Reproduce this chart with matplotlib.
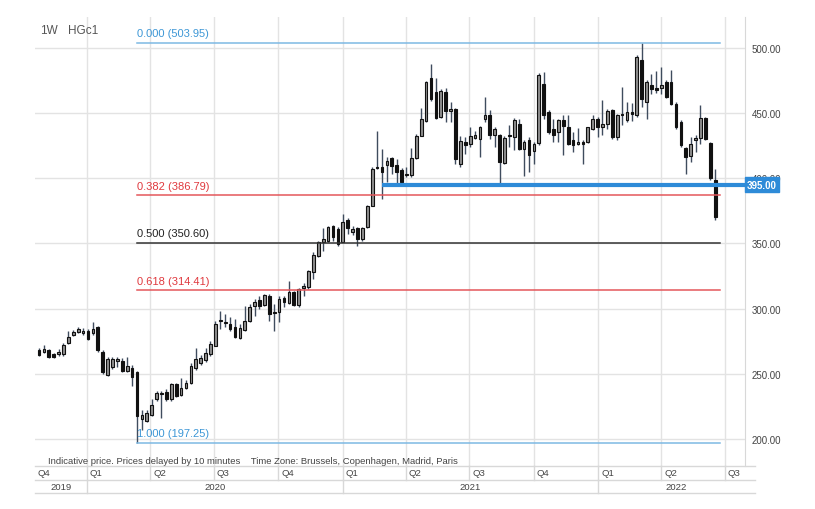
import matplotlib
matplotlib.use("Agg")
import matplotlib.pyplot as plt
import matplotlib.dates as mdates
import matplotlib.transforms as mtransforms
from matplotlib.lines import Line2D
import pandas as pd
import numpy as np

plt.rcParams['font.family'] = ['Liberation Sans', 'DejaVu Sans']

# ---------------- data ----------------
dates = pd.date_range('2019-10-25', periods=139, freq='W-FRI')

opens = [268, 267, 268.5, 265, 265, 265.5, 274, 280, 282, 281, 283, 281, 286, 267, 249, 255, 260, 260, 252, 254.5,
         251, 215, 214, 218.7, 230.3, 235.1, 235.9, 230.3, 241.8, 234.1, 239.2, 242.6, 254.6, 258.5, 260.2, 264.9,
         271.6, 290.5, 289, 288.2, 285.7, 277.5, 283.9, 290.8, 302.2, 306.9, 303, 309.4, 297, 297.1, 307.9, 304.3,
         313, 302.8, 315.6, 316.3, 327.8, 340.6, 351.4, 352.1, 363.1, 361, 351.3, 368.2, 358.5, 361.5, 353.4, 362.3,
         378.9, 408.8, 408.8, 410.1, 415.3, 410.1, 406.5, 402.5, 402.5, 415.3, 432.6, 444.1, 476.6, 466.3, 446.7,
         466.3, 451.8, 453.1, 410.9, 427.5, 426.3, 430.6, 430, 445.4, 448.7, 432.9, 432.9, 412, 433.4, 431.6, 441.8,
         422.7, 429, 420.6, 427, 472.5, 450.8, 437.5, 435.4, 444.4, 439.3, 429.6, 426.5, 427.8, 427.8, 438, 445.7,
         439.3, 441.8, 452, 431.6, 449.2, 444.4, 450.8, 448.2, 490.4, 458.4, 471.2, 469, 469.5, 473.8, 473.8, 457.2,
         443.1, 423.2, 417, 429, 430.9, 446.2, 427.3, 398.4]
highs = [270, 272, 269, 266, 269, 273.5, 283, 283.5, 286, 285, 284, 289.5, 287, 268, 263, 263, 263, 262, 263, 257,
         252, 222.6, 222, 230.3, 236.7, 236.7, 238.5, 243, 243.3, 246.9, 245.6, 258.5, 270, 264.4, 270, 275,
         290.8, 298.4, 296, 293.3, 292, 288, 302.2, 303.5, 307.4, 310, 311.2, 311.2, 303.5, 309.9, 309.4, 321.4,
         313.7, 316, 319.6, 329.9, 343.2, 352.1, 361.5, 363.6, 364.1, 362.3, 372.6, 369.2, 363.6, 362.3, 362.5, 379.7,
         408.3, 436.5, 422.4, 416, 416.5, 414.7, 407.6, 408.3, 422.9, 433.9, 453.6, 474.8, 487.6, 476.6, 468.4,
         468.9, 458.2, 453.6, 432.6, 431.3, 439, 436.4, 440.3, 462.3, 452, 439.3, 434.2, 432, 440.5, 446.2, 445.7,
         429, 431.6, 427.8, 480.5, 481.4, 452, 445.7, 445.7, 448.2, 448.7, 435.4, 438.5, 429, 439.3, 448.2, 447,
         459.7, 453.3, 453.3, 449.5, 470, 458.4, 458, 494.2, 503.95, 475, 480.2, 482, 485.3, 475, 482.7, 458.4,
         444.4, 423.9, 431.6, 432.9, 456.4, 447, 427.8, 407.3]
lows = [263.5, 266, 262, 262, 264, 264, 273, 279, 281, 280, 276, 280, 267, 250, 248, 254, 255, 251, 251, 240.5,
        197.25, 207, 213, 218, 229, 216.2, 229, 229.5, 232, 233, 238.5, 241.8, 253, 257, 259, 264,
        271, 284.4, 285.7, 283.1, 277.2, 276.7, 283.1, 289.5, 294.6, 299.7, 302.2, 290.8, 283, 289.5, 301, 303.5,
        302.2, 301.5, 309.4, 315, 322.7, 339.3, 344.5, 351.3, 352.1, 348.3, 350.8, 357.2, 356.4, 348.3, 351.5, 361.5,
        378.4, 407, 384.1, 396.8, 403.2, 394.8, 395, 401, 400.6, 414.7, 432, 442.8, 459.5, 445.4, 445.9,
        442.8, 442.8, 410.9, 408.3, 418.6, 423.7, 430, 416, 443.1, 430.3, 423.9, 394.5, 411.2, 424, 421.4, 421.4,
        401.7, 404.8, 411.2, 425.7, 445.7, 434.2, 427.8, 427.8, 418, 425.2, 420.1, 425.7, 411.2, 427, 436.7, 431.6,
        432.9, 438, 430.3, 429, 440.5, 443.1, 444, 446.9, 454.6, 445.7, 464.8, 465, 464.8, 461.5, 455.9, 437.5,
        423.9, 403.5, 412.4, 420.1, 426.5, 429, 398.4, 367.7]
closes = [264.5, 269, 263, 263, 267, 272, 278, 282, 284, 283, 277, 284.5, 268, 251, 261.5, 261, 261, 252, 256, 247.5,
          217.5, 218.7, 220, 226.4, 235.4, 234.6, 230.3, 241.8, 232.8, 239.2, 242.6, 255.9, 261, 262.3, 266.2, 272.6,
          288.2, 291, 290, 284.4, 278, 285.5, 290.8, 301, 305.3, 302.2, 310.5, 295.9, 296.5, 307.4, 305.3, 312.5,
          302.8, 315, 317.5, 329, 341.1, 351.3, 353.4, 362.3, 354.6, 349.5, 366.2, 361.5, 361, 353.4, 361.5, 378.9,
          407.1, 408, 404.5, 413.4, 409.1, 404.5, 396.8, 403.5, 415.3, 432.6, 445.4, 473.5, 460.7, 445.9, 467.1,
          451.8, 453.1, 414.7, 428.8, 425.5, 432.6, 433, 439, 448.4, 432.9, 438, 412.4, 431, 432.4, 444.4, 422.7,
          427.8, 417.5, 426.5, 479, 448.2, 435.4, 433.4, 444.4, 440, 426.5, 425.2, 428, 426, 439.3, 445.7, 439.3,
          441.8, 451.3, 431.6, 448.2, 448.5, 450.8, 449, 493, 461, 473.8, 468.7, 468, 471.5, 462.3, 457.2, 439.3,
          425.2, 416.3, 426.5, 430.9, 446.4, 430.3, 400.2, 370.3]

fib_high = 503.95
fib_low = 197.25
fib_ratios = [0.000, 0.382, 0.500, 0.618, 1.000]
support_level = 395.00
y_ticks = [200, 250, 300, 350, 400, 450, 500]
symbol = "HGc1"
interval = "1W"

# ---------------- figure ----------------
W, H = 815, 510
fig = plt.figure(figsize=(W / 100, H / 100), dpi=100)
L, R, T, B = 35, 745, 18, 467
ax = fig.add_axes([L / W, 1 - B / H, (R - L) / W, (B - T) / H])

xnum = mdates.date2num(dates)
ax.set_xlim(mdates.date2num(pd.Timestamp('2019-10-19 08:00')), mdates.date2num(pd.Timestamp('2022-07-29 14:00')))
ax.set_ylim(179.3, 523.6)

grid_c = '#e3e3e3'
# horizontal grid
for yt in y_ticks:
    ax.axhline(yt, color=grid_c, lw=1, zorder=0)
# quarter grid
qstarts = pd.date_range('2019-10-01', '2022-07-01', freq='QS')
for q in qstarts:
    ax.axvline(mdates.date2num(q), color=grid_c, lw=1, zorder=0)

# candles
wick_c = '#3f4c5e'
bw = 3.9
for x, o, h, l, c in zip(xnum, opens, highs, lows, closes):
    ax.vlines(x, l, h, color=wick_c, lw=1, zorder=3)
    bull = c >= o
    lo, hi = min(o, c), max(o, c)
    hgt = max(hi - lo, 0.6)
    ax.add_patch(plt.Rectangle((x - bw / 2, lo), bw, hgt,
                               facecolor='#8f8f8f' if bull else '#111111',
                               edgecolor='#111111', lw=0.8, zorder=4))

# fibonacci lines
fib_start = xnum[int(np.argmin(lows))]
fib_end = xnum[-1] + 7
fib_cols = {0.000: ('#7db9e3', '#3d97d6'), 0.382: ('#e4575b', '#e0393e'), 0.500: ('#333333', '#222222'),
            0.618: ('#e4575b', '#e0393e'), 1.000: ('#7db9e3', '#3d97d6')}
for r in fib_ratios:
    lvl = fib_high - r * (fib_high - fib_low)
    lc, tc = fib_cols[r]
    ax.plot([fib_start, fib_end], [lvl, lvl], color=lc, lw=1.1, zorder=5)
    ax.text(fib_start, lvl + 3.2, f"{r:.3f} ({lvl:.2f})", color=tc, fontsize=8,
            ha='left', va='bottom', zorder=6)

# support line
sup_start = xnum[70]
ax.plot([sup_start, ax.get_xlim()[1]], [support_level, support_level], color='#2e8bd8', lw=3,
        zorder=6, solid_capstyle='butt')

# right axis
ax.yaxis.tick_right()
ax.set_yticks(y_ticks)
ax.set_yticklabels([f"{v:.2f}" for v in y_ticks], fontsize=7, color='#444444')
ax.tick_params(axis='y', length=0, pad=5)
ax.set_xticks([])
for s in ['top', 'left', 'bottom']:
    ax.spines[s].set_visible(False)
ax.spines['right'].set_color('#d8d8d8')

ax.text(1.003, (support_level - 179.3) / (523.6 - 179.3), f"{support_level:.2f}", transform=ax.transAxes,
        color='white', fontsize=7, fontweight='bold', ha='left', va='center', zorder=10,
        bbox=dict(boxstyle='square,pad=0.25', fc='#2e8bd8', ec='#2e8bd8'), clip_on=False)

# titles
fig.text(40 / W, 1 - 31 / H, interval, fontsize=8.5, color='#555555', va='center')
fig.text(68 / W, 1 - 31 / H, symbol, fontsize=8.5, color='#555555', va='center')

# disclaimer
ax.text((48 - L) / (R - L), (B - 462) / (B - T),
        "Indicative price. Prices delayed by 10 minutes    Time Zone: Brussels, Copenhagen, Madrid, Paris",
        transform=ax.transAxes, fontsize=6.8, color='#444444', ha='left', va='center', zorder=7)

# bottom time axis rows
tr = mtransforms.blended_transform_factory(ax.transData, ax.transAxes)
ph = B - T
r1 = -(481 - B) / ph
r2 = -(494 - B) / ph
x_right_ax = (755 - L) / (R - L)
line_c = '#d8d8d8'
for yy in [0, r1, r2]:
    ax.add_line(Line2D([0, x_right_ax], [yy, yy], transform=ax.transAxes, color=line_c, lw=1, clip_on=False))
xl0, xl1 = ax.get_xlim()
for q in qstarts:
    qx = mdates.date2num(q)
    lab = f"Q{(q.month - 1) // 3 + 1}"
    if qx >= xl0:
        ax.add_line(Line2D([qx, qx], [0, r1], transform=tr, color=line_c, lw=1, clip_on=False))
        ax.text(qx + 4, (r1) / 2, lab, transform=tr, fontsize=6.8, color='#444444', ha='left', va='center',
                clip_on=False)
    else:
        ax.text(xl0 + 3, (r1) / 2, lab, transform=tr, fontsize=6.8, color='#444444', ha='left', va='center',
                clip_on=False)
years = [2019, 2020, 2021, 2022]
edges = [xl0] + [mdates.date2num(pd.Timestamp(f'{y}-01-01')) for y in years[1:]] + [xl0 + (xl1 - xl0) * x_right_ax]
for i, y in enumerate(years):
    if i > 0:
        ax.add_line(Line2D([edges[i], edges[i]], [r1, r2], transform=tr, color=line_c, lw=1, clip_on=False))
    ax.text((edges[i] + edges[i + 1]) / 2, (r1 + r2) / 2, str(y), transform=tr, fontsize=6.8, color='#444444',
            ha='center', va='center', clip_on=False)

fig.savefig('out.png', dpi=100, facecolor='white')
